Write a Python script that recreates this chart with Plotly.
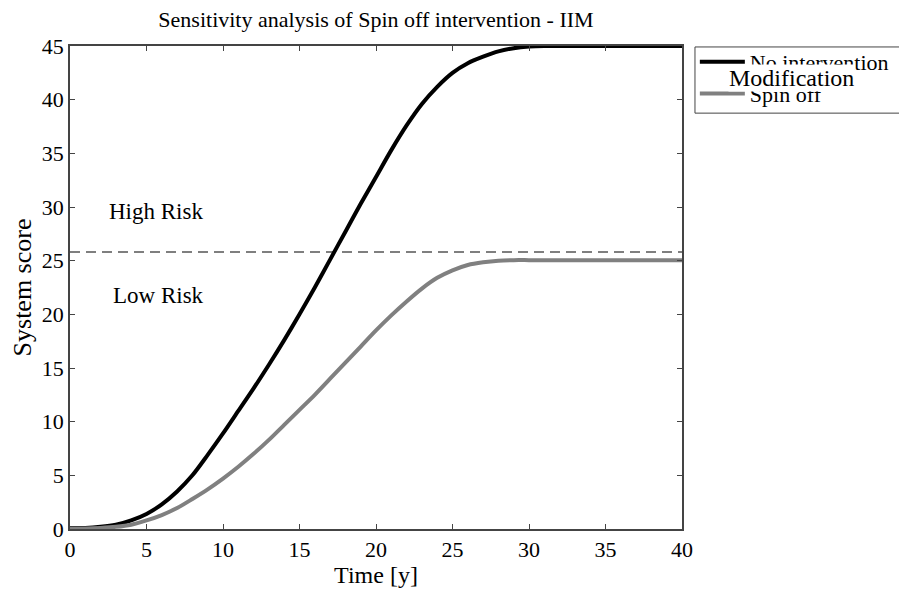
import plotly.graph_objects as go

time_y = list(range(0, 41))
no_intervention = [0.1, 0.1, 0.2, 0.4, 0.8, 1.4, 2.3, 3.5, 5.0, 6.9,
                   8.9, 11.0, 13.1, 15.3, 17.6, 20.0, 22.5, 25.1, 27.7, 30.3,
                   32.8, 35.3, 37.6, 39.6, 41.2, 42.5, 43.4, 44.0, 44.5, 44.8,
                   44.95, 45.0, 45.0, 45.0, 45.0, 45.0, 45.0, 45.0, 45.0, 45.0, 45.0]
spin_off = [0.05, 0.05, 0.1, 0.2, 0.4, 0.8, 1.3, 1.95, 2.8, 3.7,
            4.7, 5.8, 7.0, 8.3, 9.7, 11.1, 12.5, 14.0, 15.5, 17.0,
            18.5, 19.9, 21.2, 22.4, 23.4, 24.1, 24.6, 24.85, 25.0, 25.05,
            25.05, 25.05, 25.05, 25.05, 25.05, 25.05, 25.05, 25.05, 25.05, 25.05, 25.05]
threshold_x = [0, 40]
threshold_y = [25.8, 25.8]
x_ticks = [0, 5, 10, 15, 20, 25, 30, 35, 40]
y_ticks = [0, 5, 10, 15, 20, 25, 30, 35, 40, 45]

FONT = "Liberation Serif, Times New Roman, serif"

fig = go.Figure()
fig.add_trace(go.Scatter(x=threshold_x, y=threshold_y, mode="lines",
                         line=dict(color="#555555", width=1.5, dash="10px,6px"),
                         showlegend=False, hoverinfo="skip"))
fig.add_trace(go.Scatter(x=time_y, y=no_intervention, mode="lines", name="No intervention",
                         line=dict(color="black", width=4, shape="spline", smoothing=0.8)))
fig.add_trace(go.Scatter(x=time_y, y=spin_off, mode="lines", name="Spin off",
                         line=dict(color="#808080", width=4, shape="spline", smoothing=0.8)))

fig.add_annotation(x=5.6, y=29.6, xref="x", yref="y", text="High Risk", showarrow=False,
                   font=dict(family=FONT, size=23, color="black"))
fig.add_annotation(x=5.8, y=21.8, xref="x", yref="y", text="Low Risk", showarrow=False,
                   font=dict(family=FONT, size=23, color="black"))
fig.add_annotation(x=1.179, y=0.934, xref="paper", yref="paper", text="Modification",
                   xanchor="center", yanchor="middle",
                   showarrow=False, bgcolor="white", borderpad=0,
                   font=dict(family=FONT, size=24, color="black"))

# legend frame
fig.add_shape(type="rect", xref="paper", yref="paper",
              x0=1.0212, x1=1.362, y0=0.861, y1=0.998,
              line=dict(color="#444444", width=1), fillcolor="rgba(0,0,0,0)")

axis_common = dict(showline=True, linecolor="#444444", linewidth=1.5, mirror="ticks",
                   ticks="inside", ticklen=5, tickcolor="#444444", showgrid=False,
                   zeroline=False, tickfont=dict(family=FONT, size=22, color="black"))

W, H = 899, 585  # page body adds an 8px margin

fig.update_layout(
    width=W, height=H,
    margin=dict(l=60, r=225, t=38, b=61),
    paper_bgcolor="white", plot_bgcolor="white",
    font=dict(family=FONT, color="black"),
    title=dict(text="Sensitivity analysis of Spin off intervention - IIM",
               x=0.5, xref="paper", xanchor="center",
               y=1 - 11 / H, yref="container", yanchor="middle",
               font=dict(family=FONT, size=22, color="black")),
    xaxis=dict(range=[0, 40], tickvals=x_ticks,
               title=dict(text="Time [y]", font=dict(family=FONT, size=24), standoff=2),
               **axis_common),
    yaxis=dict(range=[0, 45], tickvals=y_ticks,
               title=dict(text="System score", font=dict(family=FONT, size=26), standoff=4),
               **axis_common),
    legend=dict(x=1.021, y=1.0103, xanchor="left", yanchor="top",
                borderwidth=0, bgcolor="rgba(0,0,0,0)",
                font=dict(family=FONT, size=22, color="black"),
                itemwidth=45, tracegroupgap=0),
    showlegend=True,
)

fig.write_html("out.html")
